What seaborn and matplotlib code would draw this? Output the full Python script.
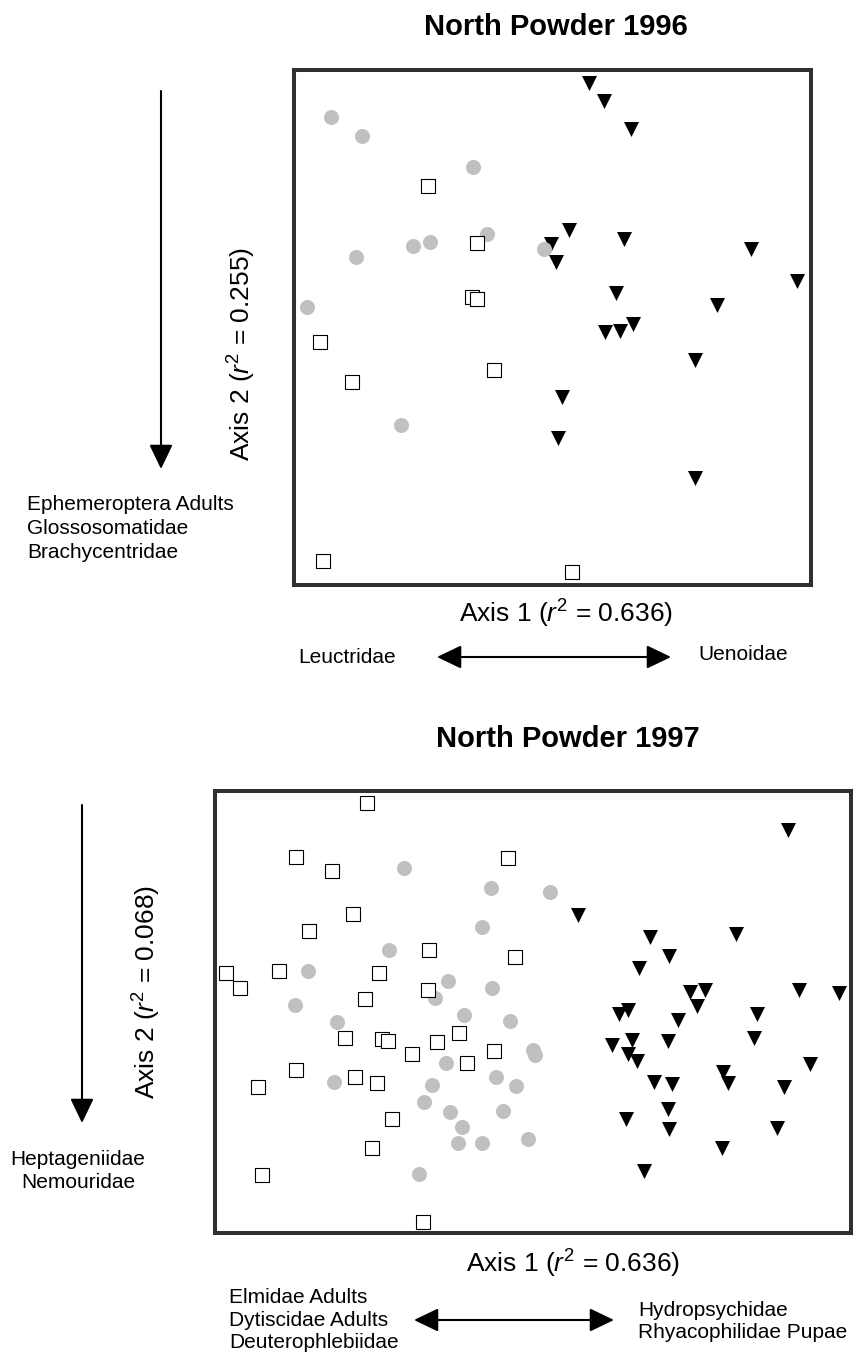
import seaborn as sns
import matplotlib.pyplot as plt
import pandas as pd
from matplotlib.patches import FancyArrowPatch

# NMS ordination scores (units: 0-100 across each frame)
# ---- North Powder 1996 ----
tri96_x = [57.1, 60.0, 65.2, 53.2, 49.7, 50.7, 63.8, 88.4, 97.3, 62.3, 81.8, 60.2, 63.1, 65.6, 77.6, 51.8, 51.1, 77.6]
tri96_y = [97.5, 94.0, 88.5, 68.9, 66.2, 62.7, 67.2, 65.2, 59.0, 56.7, 54.4, 49.1, 49.3, 50.7, 43.7, 36.5, 28.5, 20.8]
dot96_x = [7.2, 13.2, 34.6, 37.3, 23.0, 26.3, 12.0, 48.4, 2.5, 20.7]
dot96_y = [90.9, 87.2, 81.2, 68.2, 65.8, 66.6, 63.7, 65.2, 54.0, 31.1]
box96_x = [25.9, 35.4, 34.4, 35.4, 5.0, 11.2, 38.7, 5.6, 53.8]
box96_y = [77.5, 66.4, 55.9, 55.5, 47.2, 39.4, 41.7, 4.7, 2.5]

# ---- North Powder 1997 ----
tri97_x = [90.1, 57.1, 68.4, 81.9, 71.4, 66.7, 74.7, 77.0, 75.8, 91.8, 98.1, 63.5, 64.9, 72.8, 85.2, 62.4, 65.6,
           64.9, 66.4, 71.2, 84.7, 93.6, 79.9, 80.7, 69.0, 71.9, 89.5, 71.2, 64.6, 71.4, 88.4, 79.7, 67.5]
tri97_y = [91.1, 71.9, 66.9, 67.6, 62.6, 59.9, 54.5, 54.9, 51.3, 54.9, 54.2, 49.5, 50.4, 48.1, 49.5, 42.5, 43.6,
           40.5, 38.9, 43.4, 44.1, 38.2, 36.4, 33.9, 34.1, 33.7, 33.0, 28.0, 25.8, 23.5, 23.7, 19.2, 14.0]
dot97_x = [29.7, 43.4, 42.0, 52.7, 27.4, 14.6, 36.6, 43.6, 12.6, 34.6, 39.2, 46.4, 19.2, 50.0, 50.3, 36.3, 18.7,
           34.1, 44.2, 47.3, 32.9, 36.9, 45.3, 38.8, 38.2, 42.0, 49.2, 32.1]
dot97_y = [82.5, 78.0, 69.2, 77.1, 64.0, 59.2, 56.9, 55.4, 51.5, 53.1, 49.3, 47.9, 47.7, 41.4, 40.2, 38.4, 34.1,
           33.4, 35.3, 33.2, 29.6, 27.3, 27.6, 24.0, 20.3, 20.3, 21.2, 13.3]
box97_x = [23.9, 12.7, 18.4, 46.1, 21.7, 14.8, 33.6, 47.2, 1.7, 10.1, 25.8, 3.9, 23.6, 33.5, 20.4, 26.3, 27.2,
           38.4, 34.9, 31.0, 43.9, 39.6, 12.7, 6.8, 22.0, 25.5, 27.8, 24.7, 7.4, 32.7]
box97_y = [97.2, 85.0, 81.8, 84.7, 72.1, 68.2, 64.0, 62.4, 58.8, 59.2, 58.8, 55.4, 52.9, 54.9, 44.1, 43.8, 43.4,
           45.2, 43.2, 40.5, 41.1, 38.4, 36.8, 33.0, 35.3, 33.9, 25.8, 19.2, 13.1, 2.5]


def frame(tx, ty, dx, dy, bx, by):
    parts = []
    for g, xs, ys in [("tri", tx, ty), ("dot", dx, dy), ("box", bx, by)]:
        parts.append(pd.DataFrame({"axis1": xs, "axis2": ys, "group": g}))
    return pd.concat(parts, ignore_index=True)


df96 = frame(tri96_x, tri96_y, dot96_x, dot96_y, box96_x, box96_y)
df97 = frame(tri97_x, tri97_y, dot97_x, dot97_y, box97_x, box97_y)

sns.set_theme(style="white")
plt.rcParams["font.family"] = ["Liberation Sans", "DejaVu Sans"]
plt.rcParams["mathtext.fontset"] = "custom"
plt.rcParams["mathtext.rm"] = "Liberation Sans"
plt.rcParams["mathtext.it"] = "Liberation Sans:italic"

W, H = 859, 1355
fig = plt.figure(figsize=(W / 100, H / 100), dpi=100)
fig.patch.set_facecolor("white")


def fx(px):
    return px / W


def fy(py):
    return 1 - py / H


styles = {
    "tri": dict(marker="v", color="black", s=117, linewidth=0),
    "dot": dict(marker="o", color="#c0c0c0", s=117, linewidth=0),
    "box": dict(marker="s", color="white", edgecolor="black", s=110, linewidth=0.8),
}


def draw(ax, df):
    for g in ["tri", "dot", "box"]:
        sns.scatterplot(data=df[df.group == g], x="axis1", y="axis2", ax=ax,
                        legend=False, clip_on=False, **styles[g])
    ax.set(xlim=(0, 100), ylim=(0, 100), xticks=[], yticks=[], xlabel="", ylabel="")
    for sp in ax.spines.values():
        sp.set_linewidth(2.9)
        sp.set_color("#303030")


ax1 = fig.add_axes([fx(294), fy(585), (811 - 294) / W, (585 - 70) / H])
draw(ax1, df96)
ax2 = fig.add_axes([fx(215), fy(1233), (851 - 215) / W, (1233 - 790.5) / H])
draw(ax2, df97)


def arrow(x0, y0, x1, y1, style):
    fig.add_artist(FancyArrowPatch((fx(x0), fy(y0)), (fx(x1), fy(y1)),
                                   transform=fig.transFigure, arrowstyle=style,
                                   mutation_scale=10, lw=1.5, color="black",
                                   shrinkA=0, shrinkB=0))


head = ",head_length=1.5,head_width=0.72"
arrow(161, 91, 161, 469, "-|>" + head)
arrow(437, 657, 671, 657, "<|-|>" + head)
arrow(82, 805, 82, 1123, "-|>" + head)
arrow(414, 1320, 614, 1320, "<|-|>" + head)


def txt(px, py, s, **kw):
    fig.text(fx(px), fy(py), s, color="black", **kw)


# 1996 panel text
txt(556, 35, "North Powder 1996", fontsize=21, fontweight="bold", ha="center", va="baseline")
txt(566, 623, r"Axis 1 ($\mathit{r}^{2}$ = 0.636)", fontsize=19, ha="center", va="baseline")
txt(242, 354, r"Axis 2 ($\mathit{r}^{2}$ = 0.255)", fontsize=19, rotation=90, ha="center", va="center")
txt(27, 510, "Ephemeroptera Adults", fontsize=15, ha="left", va="baseline")
txt(27, 534, "Glossosomatidae", fontsize=15, ha="left", va="baseline")
txt(27, 558, "Brachycentridae", fontsize=15, ha="left", va="baseline")
txt(298, 663, "Leuctridae", fontsize=15, ha="left", va="baseline")
txt(698, 660, "Uenoidae", fontsize=15, ha="left", va="baseline")

# 1997 panel text
txt(568, 747, "North Powder 1997", fontsize=21, fontweight="bold", ha="center", va="baseline")
txt(573, 1273, r"Axis 1 ($\mathit{r}^{2}$ = 0.636)", fontsize=19, ha="center", va="baseline")
txt(147, 992, r"Axis 2 ($\mathit{r}^{2}$ = 0.068)", fontsize=19, rotation=90, ha="center", va="center")
txt(78, 1165, "Heptageniidae", fontsize=15, ha="center", va="baseline")
txt(78, 1188, "Nemouridae", fontsize=15, ha="center", va="baseline")
txt(229, 1303, "Elmidae Adults", fontsize=15, ha="left", va="baseline")
txt(229, 1326, "Dytiscidae Adults", fontsize=15, ha="left", va="baseline")
txt(229, 1348, "Deuterophlebiidae", fontsize=15, ha="left", va="baseline")
txt(638, 1316, "Hydropsychidae", fontsize=15, ha="left", va="baseline")
txt(638, 1338, "Rhyacophilidae Pupae", fontsize=15, ha="left", va="baseline")

fig.savefig("out.png", dpi=100)
